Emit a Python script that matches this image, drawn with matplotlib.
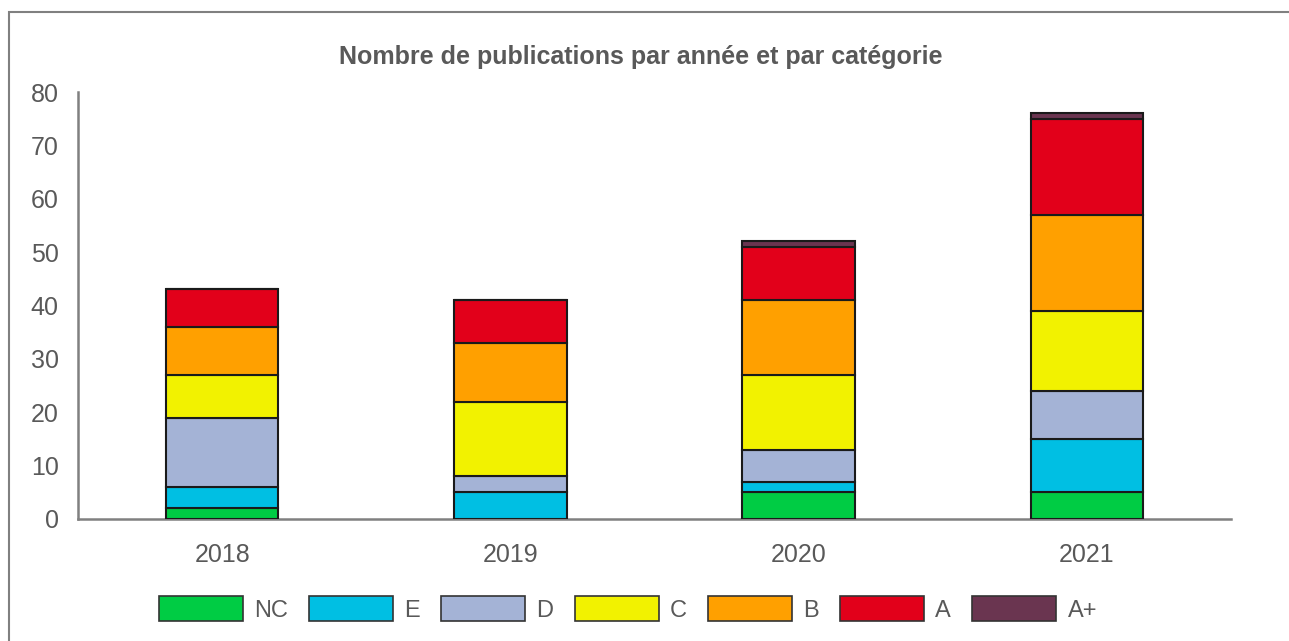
import matplotlib
matplotlib.use('Agg')
import matplotlib.pyplot as plt
from matplotlib.patches import Rectangle
import numpy as np

years = ['2018', '2019', '2020', '2021']
categories = ['NC', 'E', 'D', 'C', 'B', 'A', 'A+']
nc = [2, 0, 5, 5]
e = [4, 5, 2, 10]
d = [13, 3, 6, 9]
c = [8, 14, 14, 15]
b = [9, 11, 14, 18]
a = [7, 8, 10, 18]
a_plus = [0, 0, 1, 1]
colors = ['#00cc44', '#00bfe3', '#a4b3d6', '#f2f200', '#ffa000', '#e2001a', '#6a3550']

series = [nc, e, d, c, b, a, a_plus]
text_color = '#595959'

plt.rcParams['font.family'] = ['Liberation Sans', 'DejaVu Sans']

fig = plt.figure(figsize=(12.89, 6.41), dpi=100)
ax = fig.add_axes([78 / 1289, 1 - 519 / 641, (1231 - 78) / 1289, (519 - 92) / 641])

x = np.arange(len(years))
bottom = np.zeros(len(years))
for vals, name, col in zip(series, categories, colors):
    ax.bar(x, vals, 0.39, bottom=bottom, color=col, edgecolor='#1a1a1a',
           linewidth=1.5, label=name, zorder=3)
    bottom += np.array(vals)

ax.set_xlim(-0.5, 3.5)
ax.set_ylim(0, 80)
ax.set_yticks(range(0, 81, 10))
ax.set_xticks(x)
ax.set_xticklabels(years)
ax.tick_params(axis='both', length=0, labelsize=18, colors=text_color)
ax.tick_params(axis='x', pad=17)
ax.tick_params(axis='y', pad=14)
for s in ['top', 'right']:
    ax.spines[s].set_visible(False)
for s in ['left', 'bottom']:
    ax.spines[s].set_color('#808080')
    ax.spines[s].set_linewidth(1.8)

fig.text(641 / 1289, 1 - 57 / 641, 'Nombre de publications par année et par catégorie',
         ha='center', va='center', fontsize=18, fontweight='bold', color=text_color)

leg = fig.legend(loc='center', bbox_to_anchor=(628 / 1289, 1 - 609 / 641), ncol=7,
                 frameon=False, fontsize=17, handlelength=3.56, handleheight=1.2,
                 columnspacing=0.9, handletextpad=0.47)
for t in leg.get_texts():
    t.set_color(text_color)
for h in leg.legend_handles:
    h.set_edgecolor('#333333')
    h.set_linewidth(1.2)

# outer frame
fig.patches.append(Rectangle((9 / 1289, -0.1), 1.2, 1 - 12 / 641 + 0.1,
                             transform=fig.transFigure, fill=False,
                             edgecolor='#808080', linewidth=1.5))

fig.savefig('out.png', dpi=100)
